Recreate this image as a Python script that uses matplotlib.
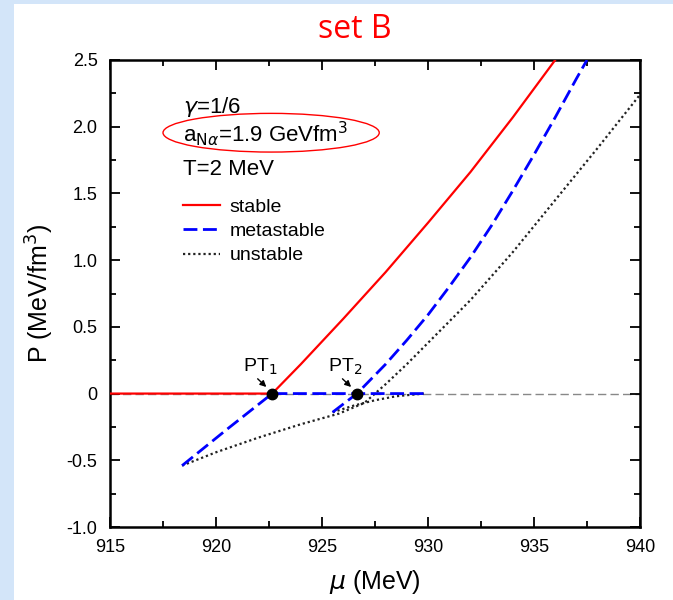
import matplotlib
matplotlib.use('Agg')
import matplotlib.pyplot as plt
from matplotlib.patches import Rectangle, Ellipse
from matplotlib.ticker import MultipleLocator, FuncFormatter

plt.rcParams['font.family'] = ['Liberation Sans', 'DejaVu Sans']
plt.rcParams['mathtext.fontset'] = 'dejavusans'

# stable branch (red)
mu_stable = [915.0, 922.65, 924.0, 926.0, 928.0, 930.0, 932.0, 934.0, 936.0]
p_stable = [0.0, 0.0, 0.22, 0.56, 0.91, 1.28, 1.66, 2.07, 2.5]

# metastable branches (blue)
mu_meta1 = [918.4, 920.5, 922.65, 926.0, 929.8]
p_meta1 = [-0.54, -0.27, 0.0, 0.0, 0.0]
mu_meta2 = [925.5, 926.65, 928.0, 929.0, 930.0, 931.0, 932.0, 933.0, 934.0, 935.0, 936.0, 937.0, 937.5]
p_meta2 = [-0.14, 0.0, 0.22, 0.40, 0.59, 0.80, 1.02, 1.26, 1.52, 1.79, 2.07, 2.36, 2.5]

# unstable branches (black dotted)
mu_unst1 = [918.4, 920.0, 922.0, 924.0, 925.8, 927.0, 928.0, 929.0, 930.0, 932.0, 934.0, 936.0, 938.0, 940.0]
p_unst1 = [-0.54, -0.44, -0.33, -0.23, -0.15, -0.07, 0.07, 0.22, 0.38, 0.70, 1.06, 1.45, 1.84, 2.24]
mu_unst2 = [925.5, 926.5, 927.5, 928.5, 929.8]
p_unst2 = [-0.14, -0.09, -0.05, -0.02, 0.0]

# P = 0 reference
mu_zero = [915.0, 940.0]
p_zero = [0.0, 0.0]

# phase transition points
pt_mu = [922.65, 926.65]
pt_p = [0.0, 0.0]
pt_names = ['PT$_1$', 'PT$_2$']

RED = '#ff0000'
BLUE = '#0000ff'
DOT = '#222222'
dotted = (0, (1, 1.3))

fig = plt.figure(figsize=(6.73, 6.0), dpi=100)
fig.patch.set_facecolor('#d3e5f9')
fig.add_artist(Rectangle((14 / 673, 0), 1, 1 - 4 / 600, transform=fig.transFigure,
                         facecolor='white', edgecolor='none', zorder=0))

ax = fig.add_axes([110 / 673, 1 - 527 / 600, 530 / 673, 467 / 600])
ax.set_xlim(915, 940)
ax.set_ylim(-1.0, 2.5)

ax.plot(mu_zero, p_zero, color='#888888', lw=1.0, dashes=(6, 3), zorder=1)
ax.plot(mu_unst1, p_unst1, color=DOT, lw=1.6, linestyle=dotted, zorder=2)
ax.plot(mu_unst2, p_unst2, color=DOT, lw=1.6, linestyle=dotted, zorder=2)
ax.plot(mu_meta1, p_meta1, color=BLUE, lw=2.0, dashes=(5, 2), zorder=3)
ax.plot(mu_meta2, p_meta2, color=BLUE, lw=2.0, dashes=(5, 2), zorder=3)
ax.plot(mu_stable, p_stable, color=RED, lw=1.6, zorder=4)

ax.plot(pt_mu, pt_p, 'o', color='black', ms=7.5, zorder=5)
for m, p, name in zip(pt_mu, pt_p, pt_names):
    ax.annotate('', xy=(m - 0.18, p + 0.035), xytext=(m - 0.78, p + 0.125),
                arrowprops=dict(arrowstyle='-|>', color='black', lw=1.0,
                                mutation_scale=9), zorder=5)
    ax.text(m - 0.55, p + 0.2, name, fontsize=14, ha='center', va='center')

# parameter labels
ax.text(918.45, 2.15, r'$\gamma$=1/6', fontsize=16, va='center')
ax.text(918.45, 1.95, r'a$_{\mathrm{N}\alpha}$=1.9 GeVfm$^3$', fontsize=16, va='center')
ax.text(918.45, 1.68, 'T=2 MeV', fontsize=16, va='center')
ax.add_patch(Ellipse((922.6, 1.955), 10.2, 0.29, facecolor='none',
                     edgecolor=RED, lw=1.0, zorder=6))

ax.legend(
    [plt.Line2D([], [], color=RED, lw=1.6),
     plt.Line2D([], [], color=BLUE, lw=2.0, dashes=(5, 2)),
     plt.Line2D([], [], color=DOT, lw=1.6, linestyle=dotted)],
    ['stable', 'metastable', 'unstable'],
    loc='upper left', bbox_to_anchor=(0.138, 0.7045), frameon=False,
    borderpad=0, borderaxespad=0,
    fontsize=14, handlelength=1.9, handletextpad=0.5, labelspacing=0.35)

ax.xaxis.set_major_locator(MultipleLocator(5))
ax.xaxis.set_minor_locator(MultipleLocator(2.5))
ax.yaxis.set_major_locator(MultipleLocator(0.5))
ax.yaxis.set_minor_locator(MultipleLocator(0.25))
ax.yaxis.set_major_formatter(FuncFormatter(lambda v, _: '0' if abs(v) < 1e-9 else f'{v:.1f}'))
ax.tick_params(which='both', direction='in', top=True, right=True, labelsize=13, width=1.3)
ax.tick_params(which='major', length=7, pad=9)
ax.tick_params(which='minor', length=4)
for s in ax.spines.values():
    s.set_linewidth(1.8)

ax.set_xlabel(r'$\mu$ (MeV)', fontsize=18, labelpad=8)
ax.set_ylabel(r'P (MeV/fm$^3$)', fontsize=18, labelpad=8)

fig.text(355 / 673, 1 - 30 / 600, 'set B', color=RED, fontsize=23,
         ha='center', va='center', family=['Open Sans', 'DejaVu Sans'])

fig.savefig('out.png', dpi=100)
